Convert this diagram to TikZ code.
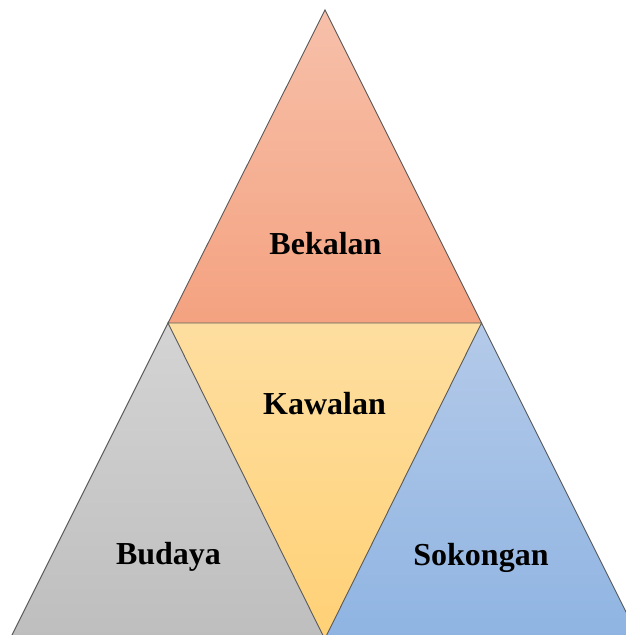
\documentclass[tikz,border=0pt]{standalone}
\usepackage{fontspec}
\setmainfont{Liberation Serif}
\begin{document}
\begin{tikzpicture}[x=1pt,y=1pt,
  edge/.style={draw=black!65, line width=0.9pt, line join=miter},
  lbl/.style={anchor=base, font=\fontsize{32}{36}\selectfont\bfseries, text=black, inner sep=0pt}]
\definecolor{topA}{RGB}{247,192,170}
\definecolor{topB}{RGB}{244,162,128}
\definecolor{midA}{RGB}{254,222,160}
\definecolor{midB}{RGB}{255,209,118}
\definecolor{grayA}{RGB}{212,212,212}
\definecolor{grayB}{RGB}{190,190,190}
\definecolor{blueA}{RGB}{180,202,233}
\definecolor{blueB}{RGB}{143,180,226}
\useasboundingbox (0,0) rectangle (626,635);
\clip (0,0) rectangle (626,635);
\coordinate (apex) at (325,625);
\coordinate (jl) at (168,312);
\coordinate (jr) at (481.5,312);
\coordinate (bl) at (10,-4);
\coordinate (bm) at (324.75,-4);
\coordinate (br) at (639.5,-4);
% top triangle
\shade[top color=topA, bottom color=topB] (apex) -- (jl) -- (jr) -- cycle;
% left triangle
\shade[top color=grayA, bottom color=grayB] (jl) -- (bl) -- (bm) -- cycle;
% middle inverted triangle
\shade[top color=midA, bottom color=midB] (jl) -- (jr) -- (bm) -- cycle;
% right triangle
\shade[top color=blueA, bottom color=blueB] (jr) -- (bm) -- (br) -- cycle;
% outlines
\draw[edge] (apex) -- (jl) -- (jr) -- cycle;
\draw[edge] (jl) -- (bl) -- (bm) -- cycle;
\draw[edge] (jr) -- (bm) -- (br) -- cycle;
% labels
\node[lbl] (bekalan) at (325.5,380) {Bekalan};
\node[lbl] (kawalan) at (324.5,220) {Kawalan};
\node[lbl] (budaya) at (168.5,70) {Budaya};
\node[lbl] (sokongan) at (481,69) {Sokongan};
\end{tikzpicture}
\end{document}
